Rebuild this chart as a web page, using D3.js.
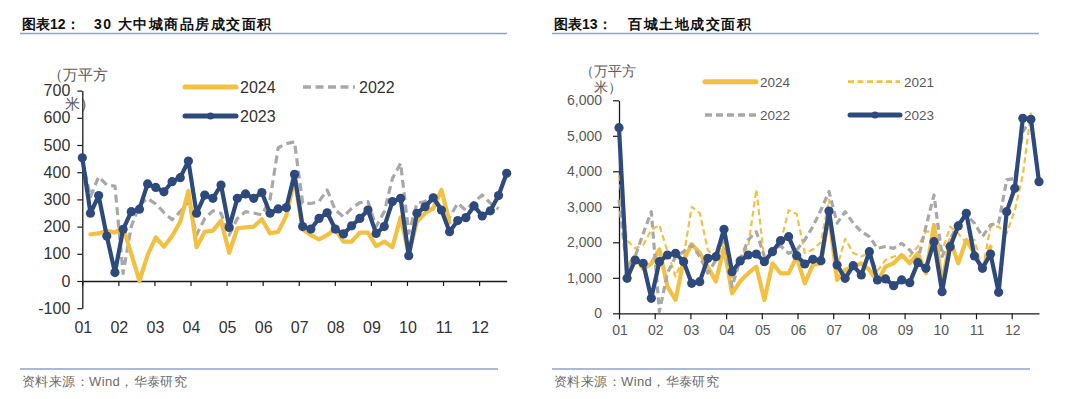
<!DOCTYPE html>
<html><head><meta charset="utf-8">
<script src="https://cdn.jsdelivr.net/npm/d3@7/dist/d3.min.js"></script>
<style>
body{margin:0;background:#fff}
svg{display:block}
text{font-family:"Liberation Sans",Arial,sans-serif}
</style>
</head><body>
<svg id="c" width="1080" height="399"></svg>
<script>
// ---------- data ----------
const months = ["01","02","03","04","05","06","07","08","09","10","11","12"];
const weeksPerMonth = 4.42;

// Chart 12: 30 大中城商品房成交面积 (weekly, 万平方米)
const left2024 = [null,172,175,185,178,198,100,0,95,160,126,165,218,331,124,181,185,222,104,194,197,200,227,175,181,240,377,190,169,153,169,190,145,145,178,178,128,145,124,234,100,218,249,267,335,215];
const left2022 = [445,310,383,353,349,28,200,280,304,283,252,225,255,292,170,230,258,249,169,230,255,250,243,300,490,505,512,286,285,292,335,261,236,267,288,292,200,255,377,433,175,286,292,316,265,235,286,260,290,316,286,265];
const left2023 = [453,249,314,165,31,190,255,264,357,344,328,365,380,441,249,316,304,353,197,304,320,304,325,249,265,270,392,200,191,230,251,191,173,203,230,261,175,200,292,304,93,249,273,306,261,181,222,233,276,239,258,314,396];
const leftTicks = [-100,0,100,200,300,400,500,600,700];

// Chart 13: 百城土地成交面积 (weekly, 万平方米)
const right2024 = [null,1300,1600,1250,1400,1800,750,380,1500,1950,1700,1300,900,1850,560,900,1130,1315,376,1409,1127,1127,1596,845,1362,1409,2800,939,1220,1315,1409,1220,892,1315,1409,1643,1409,1690,1127,2488,845,2066,1409,2066,1690,1220,1878];
const right2021 = [3900,2050,1830,1925,2350,2490,1740,1030,1600,3000,2820,1780,1550,2070,940,1600,1880,3490,1500,1700,2000,2900,2800,1700,1800,2000,3200,1300,2100,1700,1600,1700,1200,1500,1600,1650,1600,1880,2300,2300,1740,2440,2250,1970,2070,1220,2440,2440,2250,2900,3900,5650];
const right2022 = [3200,1220,1600,2250,2860,50,1130,1600,1740,1925,1600,1130,1500,2160,750,1500,2070,2300,1600,1780,1900,1690,1780,2070,2440,2910,3430,2540,2860,2540,2300,2160,1830,1880,1830,1970,1780,1500,2440,3330,1600,2070,2540,2770,2540,2160,2490,2540,3760,3800,5120,5450];
const right2023 = [5228,986,1501,1408,422,1455,1642,1690,1455,845,891,1549,1596,2366,1173,1474,1642,1670,1455,1737,2046,2159,1624,1389,1521,1483,2882,1361,986,1342,1080,1737,939,967,779,939,864,1427,1268,2018,610,1878,2460,2817,1615,1268,1670,592,2863,3521,5493,5465,3707];
const rightTicks = [0,1000,2000,3000,4000,5000,6000];

// ---------- styles ----------
const C_BLUE = "#2E4A7D", C_YEL = "#F2C144", C_GREY = "#A8A8A8", C_RULE = "#8EA3C7";
const CJK = '"Noto Sans CJK SC","Noto Sans",sans-serif';

const svg = d3.select("#c");

function header(x0, x1, lab, title, titleX) {
  svg.append("text").attr("x", x0 + 2).attr("y", 28.5).attr("font-size", 14).attr("font-weight", "bold")
     .attr("font-family", CJK).attr("fill", "#111").text(lab);
  svg.append("text").attr("x", titleX).attr("y", 28.5).attr("font-size", 14).attr("font-weight", "bold")
     .attr("font-family", CJK).attr("letter-spacing", 1.5).attr("fill", "#111").text(title);
  svg.append("line").attr("x1", x0).attr("x2", x1).attr("y1", 33.5).attr("y2", 33.5)
     .attr("stroke", C_RULE).attr("stroke-width", 1.6);
}
function footer(x0, x1) {
  svg.append("line").attr("x1", x0).attr("x2", x1).attr("y1", 369).attr("y2", 369)
     .attr("stroke", C_RULE).attr("stroke-width", 1.4);
  svg.append("text").attr("x", x0 + 2).attr("y", 386).attr("font-size", 13).attr("font-family", CJK)
     .attr("letter-spacing", 0.4).attr("fill", "#6b6b6b").text("资料来源：Wind，华泰研究");
}

const hyphenFmt = f => d => f(d).replace("\u2212", "-");

function chart(o) {
  const g = svg.append("g");
  const x = d3.scaleLinear().domain([0, 52]).range(o.xr);
  const y = d3.scaleLinear().domain(o.yd).range(o.yr);

  // unit label (drawn first so axis text sits above it)
  const u = g.append("text").attr("font-size", o.ufs).attr("font-family", CJK).attr("fill", "#595959")
    .attr("text-anchor", "middle");
  u.append("tspan").attr("x", o.unit[0]).attr("y", o.unit[1]).text("（万平方");
  u.append("tspan").attr("x", o.unit[0] + (o.unit[3] || 0)).attr("y", o.unit[1] + o.unit[2]).text("米）");

  // y axis
  const ya = g.append("g").attr("transform", `translate(${o.xr[0]},0)`)
    .call(d3.axisLeft(y).tickValues(o.yticks).tickSize(o.tick).tickSizeOuter(0).tickPadding(o.yPad).tickFormat(hyphenFmt(o.yfmt)));
  ya.select(".domain").attr("stroke", "#1a1a1a").attr("stroke-width", 1.3);
  ya.selectAll(".tick line").attr("stroke", "#1a1a1a").attr("stroke-width", 1.2);
  ya.selectAll(".tick text").attr("font-size", o.fs).attr("fill", o.txt).attr("font-family", '"Liberation Sans",Arial,sans-serif');

  // x axis at zero
  const xa = g.append("g").attr("transform", `translate(0,${y(0)})`)
    .call(d3.axisBottom(x).tickValues(months.map((_, i) => i * weeksPerMonth)).tickSize(o.tick).tickSizeOuter(0).tickFormat(""));
  xa.select(".domain").attr("stroke", "#1a1a1a").attr("stroke-width", 1.3);
  xa.selectAll(".tick line").attr("stroke", "#1a1a1a").attr("stroke-width", 1.2);
  g.selectAll(".xl").data(months).join("text").attr("class", "xl")
    .attr("x", (d, i) => x(i * weeksPerMonth) + 1).attr("y", o.xLabY)
    .attr("text-anchor", "middle").attr("font-size", o.fs).attr("fill", o.txt).text(d => d);

  const lineF = arr => d3.line().defined(d => d[1] != null).x(d => x(d[0])).y(d => y(d[1]))(arr.map((v, i) => [i, v]));

  o.series.forEach(s => {
    g.append("path").attr("d", lineF(s.data)).attr("fill", "none").attr("stroke", s.color)
      .attr("stroke-width", s.w).attr("stroke-dasharray", s.dash || null)
      .attr("stroke-linejoin", "round").attr("stroke-linecap", s.dash ? "butt" : "round");
    if (s.marker) {
      g.selectAll(null).data(s.data.map((v, i) => [i, v]).filter(d => d[1] != null)).join("circle")
        .attr("cx", d => x(d[0])).attr("cy", d => y(d[1])).attr("r", 4.6).attr("fill", s.color);
    }
  });

  // legend
  o.legend.forEach(l => {
    const s = o.series.find(q => q.name === l.name);
    g.append("line").attr("x1", l.x).attr("x2", l.x + l.len).attr("y1", l.y).attr("y2", l.y)
      .attr("stroke", s.color).attr("stroke-width", s.dash ? s.w + 0.5 : 5)
      .attr("stroke-dasharray", s.dash || null).attr("stroke-linecap", s.dash ? "butt" : "round");
    if (s.marker) g.append("circle").attr("cx", l.x + l.len / 2).attr("cy", l.y).attr("r", 3.6).attr("fill", s.color);
    g.append("text").attr("x", l.x + l.len + 4).attr("y", l.y + o.lfs * 0.36).attr("font-size", o.lfs)
      .attr("fill", o.txt).text(s.name);
  });
}

header(20, 507, "图表12：", "30 大中城商品房成交面积", 94);
header(552, 1039, "图表13：", "百城土地成交面积", 628);
footer(20, 498);
footer(552, 1030);

chart({
  xr: [82.3, 506.7], yd: [-100, 700], yr: [308.2, 90.6], yticks: leftTicks, yfmt: d3.format("d"),
  tick: 5, yPad: 7, fs: 16, lfs: 16, ufs: 15, txt: "#333", xLabY: 333,
  unit: [78, 79.5, 29, 2],
  series: [
    {name: "2022", data: left2022, color: C_GREY, w: 3.2, dash: "8,4.5"},
    {name: "2024", data: left2024, color: C_YEL, w: 4.2},
    {name: "2023", data: left2023, color: C_BLUE, w: 4.2, marker: true}
  ],
  legend: [
    {name: "2024", x: 185, y: 87, len: 51},
    {name: "2022", x: 303, y: 87, len: 52},
    {name: "2023", x: 185, y: 116, len: 51}
  ]
});

chart({
  xr: [619, 1039], yd: [0, 6000], yr: [313.3, 100.3], yticks: rightTicks, yfmt: d3.format(","),
  tick: 6, yPad: 11, fs: 14, lfs: 13.5, ufs: 13.5, txt: "#595959", xLabY: 335,
  unit: [608, 76, 16, 0],
  series: [
    {name: "2024", data: right2024, color: C_YEL, w: 4.2},
    {name: "2021", data: right2021, color: C_YEL, w: 2.2, dash: "6,3.5"},
    {name: "2022", data: right2022, color: C_GREY, w: 3.2, dash: "7,4"},
    {name: "2023", data: right2023, color: C_BLUE, w: 4.2, marker: true}
  ],
  legend: [
    {name: "2024", x: 705, y: 81.7, len: 51},
    {name: "2021", x: 848, y: 81.7, len: 52},
    {name: "2022", x: 705, y: 115, len: 51},
    {name: "2023", x: 850, y: 115, len: 50}
  ]
});
</script>
</body></html>
